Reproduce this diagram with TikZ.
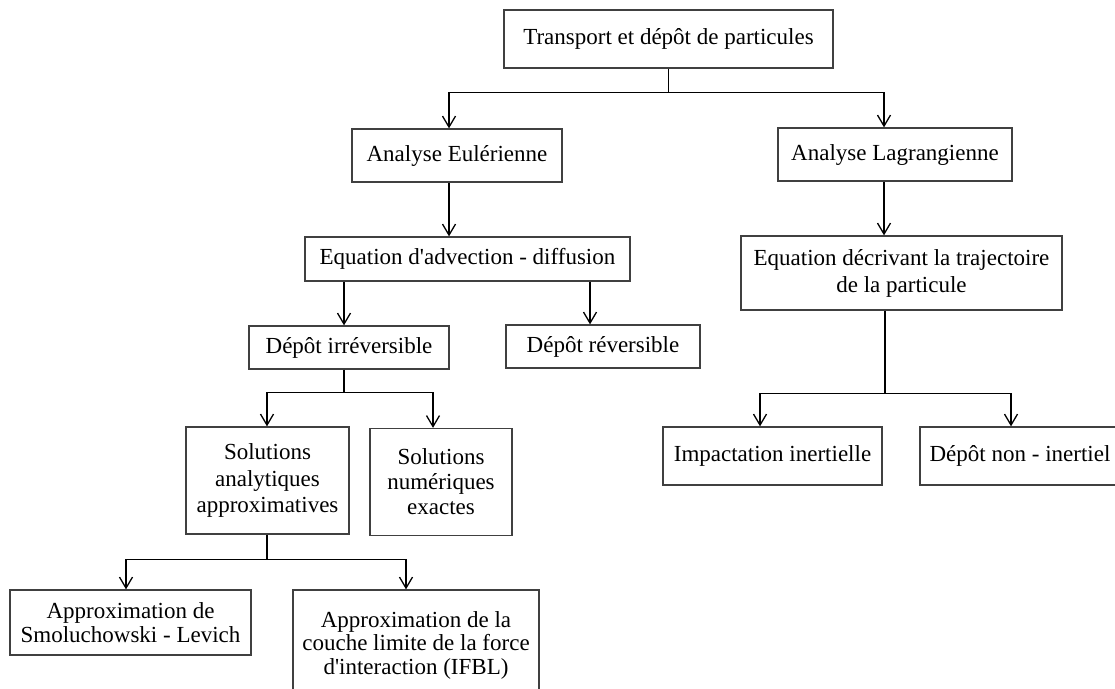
\documentclass[tikz,border=0pt]{standalone}
\usepackage{fontspec}
\setmainfont{Liberation Serif}
\usetikzlibrary{arrows.meta}
\begin{document}
\begin{tikzpicture}[x=1pt,y=-1pt,
  box/.style={draw=black!75, line width=1.3pt, fill=white, align=center, inner sep=0pt,
    font=\fontsize{23}{25}\selectfont, text=black},
  ln/.style={draw=black, line width=1.3pt},
  arr/.style={ln, -{Straight Barb[length=11pt,width=13pt]}}]
\useasboundingbox (0,0) rectangle (1115,688);
% nodes
\node[box, minimum width=329pt, minimum height=58pt] (top) at (668.5,39) {Transport et dépôt de particules};
\node[box, minimum width=210pt, minimum height=53pt] (AE) at (457,155.5) {Analyse Eulérienne};
\node[box, minimum width=234pt, minimum height=53pt] (AL) at (895,154.5) {Analyse Lagrangienne};
\node[box, minimum width=325pt, minimum height=44pt] (EA) at (467.5,259) {Equation d\textquotesingle advection - diffusion};
\node[box, minimum width=321pt, minimum height=74pt, font=\fontsize{23}{27}\selectfont] (ED) at (901.5,273) {Equation décrivant la trajectoire\\de la particule};
\node[box, minimum width=200pt, minimum height=43pt] (DI) at (349,347.5) {Dépôt irréversible};
\node[box, minimum width=194pt, minimum height=43pt] (DR) at (603,346.5) {Dépôt réversible};
\node[box, minimum width=163pt, minimum height=107pt, font=\fontsize{23}{26.5}\selectfont] (SA) at (267.5,480.5) {Solutions\\analytiques\\approximatives};
\node[box, minimum width=142pt, minimum height=107pt] (SN) at (441,482) {Solutions\\numériques\\exactes};
\node[box, minimum width=241pt, minimum height=65pt, font=\fontsize{23}{23.5}\selectfont] (SM) at (130.5,622.5) {Approximation de\\Smoluchowski - Levich};
\node[box, minimum width=246pt, minimum height=110pt, font=\fontsize{23}{23.5}\selectfont] (IF) at (416,645) {Approximation de la\\couche limite de la force\\d\textquotesingle interaction (IFBL)};
\node[box, minimum width=219pt, minimum height=58pt] (II) at (772.5,456) {Impactation inertielle};
\node[box, minimum width=200pt, minimum height=58pt] (DN) at (1020,456) {Dépôt non - inertiel};
% helper x positions
\coordinate (xAE) at (449,0);
\coordinate (xAL) at (884,0);
\coordinate (xDI) at (344,0);
\coordinate (xDR) at (590,0);
\coordinate (xSA) at (267,0);
\coordinate (xSN) at (433,0);
\coordinate (xSM) at (126,0);
\coordinate (xIF) at (406,0);
\coordinate (xED) at (885,0);
\coordinate (xII) at (760,0);
\coordinate (xDN) at (1011,0);
% connectors
\path (top.south) ++(0,24) coordinate (j0);
\draw[ln] (top.south) -- (j0);
\draw[arr] (j0) -| (AE.north -| xAE);
\draw[arr] (j0) -| (AL.north -| xAL);
\draw[arr] (AE.south -| xAE) -- (EA.north -| xAE);
\draw[arr] (AL.south -| xAL) -- (ED.north -| xAL);
\draw[arr] (EA.south -| xDI) -- (DI.north -| xDI);
\draw[arr] (EA.south -| xDR) -- (DR.north -| xDR);
\path (DI.south -| xDI) ++(0,23) coordinate (j1);
\draw[ln] (DI.south -| xDI) -- (j1);
\draw[arr] (j1) -| (SA.north -| xSA);
\draw[arr] (j1) -| (SN.north -| xSN);
\path (SA.south -| xSA) ++(0,25) coordinate (j2);
\draw[ln] (SA.south -| xSA) -- (j2);
\draw[arr] (j2) -| (SM.north -| xSM);
\draw[arr] (j2) -| (IF.north -| xIF);
\path (ED.south -| xED) ++(0,83) coordinate (j3);
\draw[ln] (ED.south -| xED) -- (j3);
\draw[arr] (j3) -| (II.north -| xII);
\draw[arr] (j3) -| (DN.north -| xDN);
\end{tikzpicture}
\end{document}
